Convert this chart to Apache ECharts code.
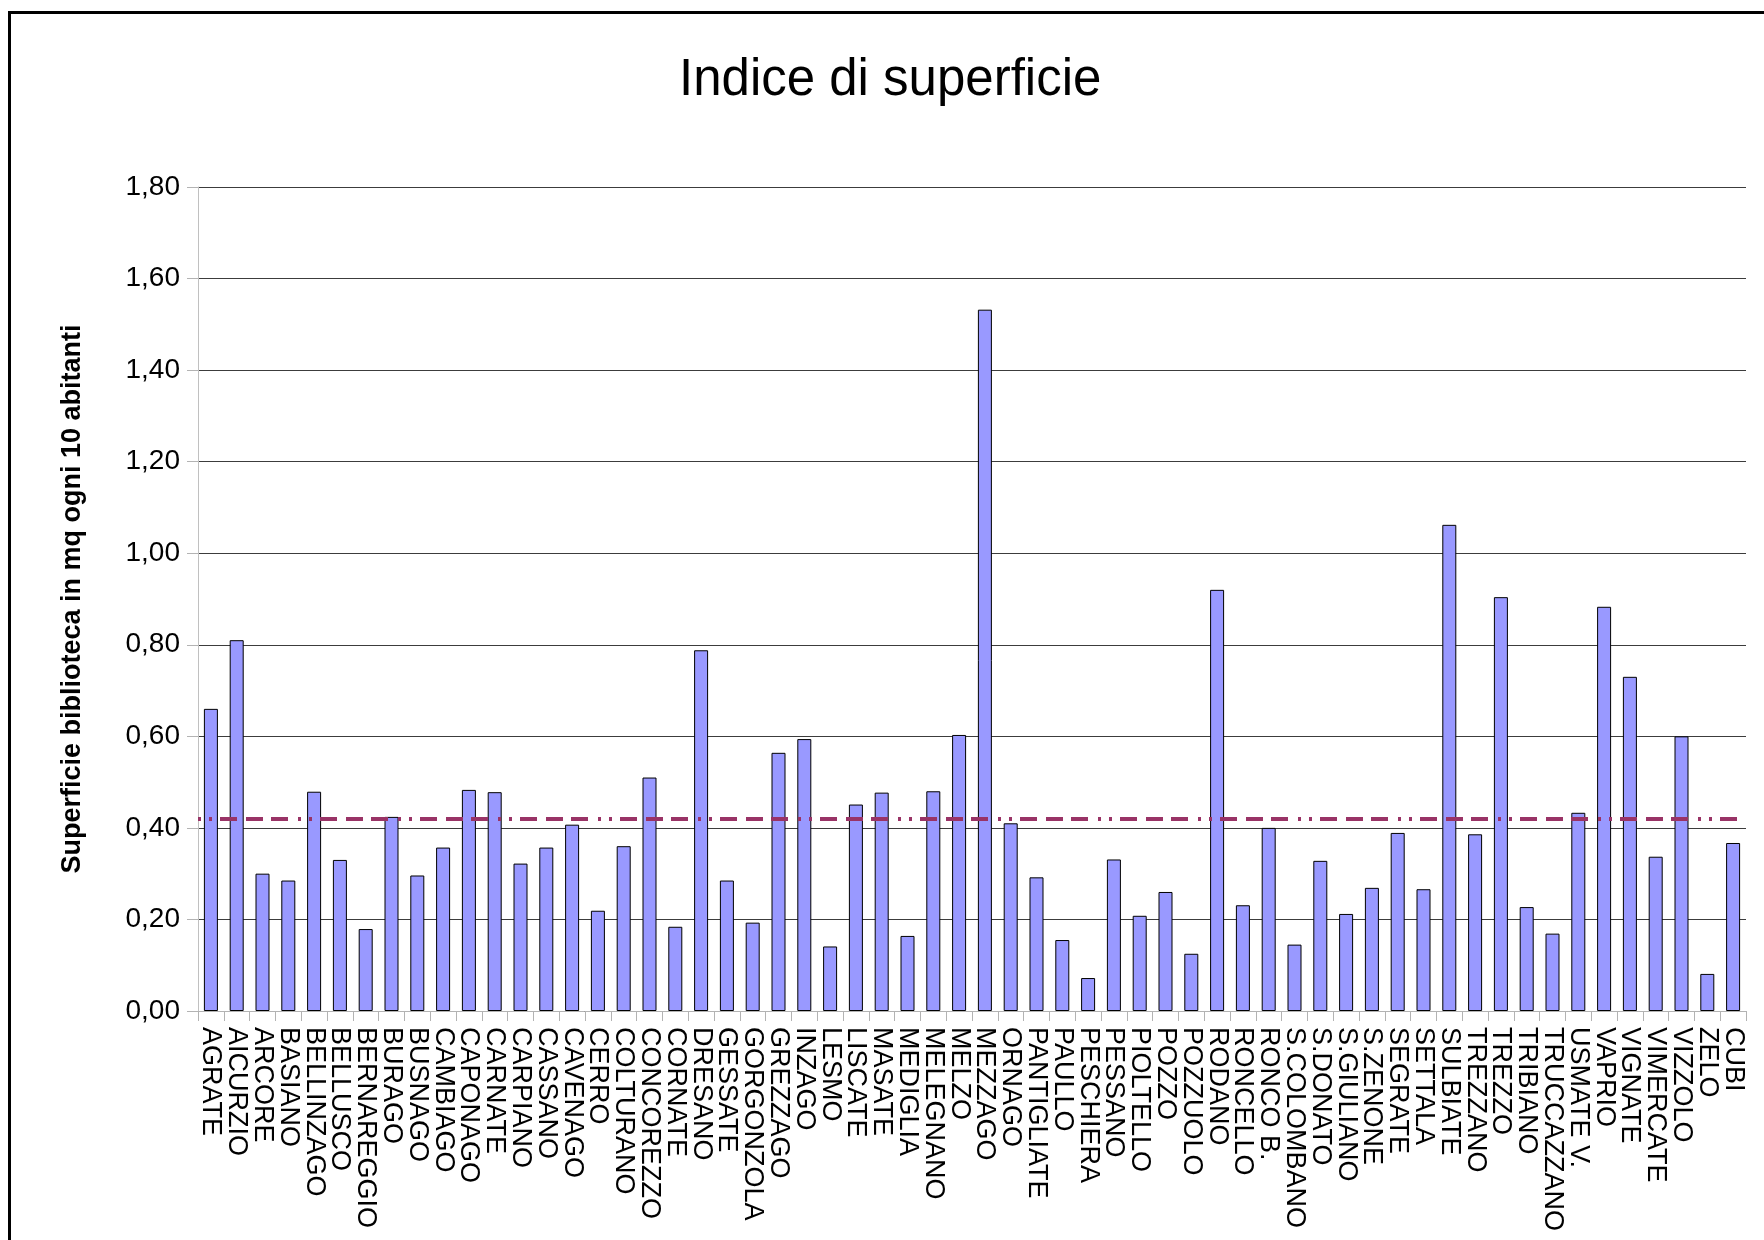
<!DOCTYPE html>
<html>
<head>
<meta charset="utf-8">
<script src="https://cdn.jsdelivr.net/npm/echarts@6/dist/echarts.min.js"></script>
<style>
  html, body { margin: 0; padding: 0; background: #ffffff; }
  #chart { width: 1764px; height: 1240px; }
</style>
</head>
<body>
<div id="chart"></div>
<script>
const titleText = 'Indice di superficie';
const yAxisName = 'Superficie biblioteca in mq ogni 10 abitanti';

const categories = [
  'AGRATE', 'AICURZIO', 'ARCORE', 'BASIANO', 'BELLINZAGO', 'BELLUSCO', 'BERNAREGGIO', 'BURAGO',
  'BUSNAGO', 'CAMBIAGO', 'CAPONAGO', 'CARNATE', 'CARPIANO', 'CASSANO', 'CAVENAGO', 'CERRO',
  'COLTURANO', 'CONCOREZZO', 'CORNATE', 'DRESANO', 'GESSATE', 'GORGONZOLA', 'GREZZAGO', 'INZAGO',
  'LESMO', 'LISCATE', 'MASATE', 'MEDIGLIA', 'MELEGNANO', 'MELZO', 'MEZZAGO', 'ORNAGO',
  'PANTIGLIATE', 'PAULLO', 'PESCHIERA', 'PESSANO', 'PIOLTELLO', 'POZZO', 'POZZUOLO', 'RODANO',
  'RONCELLO', 'RONCO B.', 'S.COLOMBANO', 'S.DONATO', 'S.GIULIANO', 'S.ZENONE', 'SEGRATE', 'SETTALA',
  'SULBIATE', 'TREZZANO', 'TREZZO', 'TRIBIANO', 'TRUCCAZZANO', 'USMATE V.', 'VAPRIO', 'VIGNATE',
  'VIMERCATE', 'VIZZOLO', 'ZELO', 'CUBI'
];

const indiceSuperficie = [
  0.66, 0.81, 0.30, 0.285, 0.479, 0.33, 0.179, 0.424,
  0.296, 0.357, 0.483, 0.478, 0.322, 0.357, 0.407, 0.219,
  0.36, 0.51, 0.184, 0.788, 0.285, 0.193, 0.564, 0.594,
  0.141, 0.451, 0.477, 0.164, 0.48, 0.603, 1.532, 0.41,
  0.292, 0.155, 0.072, 0.331, 0.208, 0.26, 0.125, 0.92,
  0.231, 0.40, 0.145, 0.328, 0.212, 0.269, 0.389, 0.266,
  1.062, 0.386, 0.904, 0.227, 0.169, 0.433, 0.883, 0.73,
  0.337, 0.60, 0.081, 0.367
];

const media = 0.416;

const yTickLabels = ['0,00', '0,20', '0,40', '0,60', '0,80', '1,00', '1,20', '1,40', '1,60', '1,80'];

const chart = echarts.init(document.getElementById('chart'), null, { renderer: 'canvas' });

const FONT = '"Liberation Sans", Arial, sans-serif';

chart.setOption({
  backgroundColor: '#ffffff',
  animation: false,
  graphic: [{
    type: 'rect',
    shape: { x: 9.5, y: 12.5, width: 1800, height: 1300 },
    style: { fill: 'none', stroke: '#000000', lineWidth: 3 },
    silent: true,
    z: 100
  }],
  title: {
    text: titleText,
    left: 674,
    top: 50,
    textStyle: { fontFamily: FONT, fontSize: 51, fontWeight: 'normal', color: '#000000' }
  },
  grid: { left: 198, right: 18, top: 187, bottom: 229, containLabel: false },
  xAxis: {
    type: 'category',
    data: categories,
    axisLine: { show: true, lineStyle: { color: '#b3b3b3', width: 1 } },
    axisTick: { show: true, interval: 0, length: 10, lineStyle: { color: '#b3b3b3' } },
    axisLabel: {
      interval: 0,
      rotate: -90,
      margin: 16,
      fontFamily: FONT,
      fontSize: 27,
      color: '#000000'
    },
    splitLine: { show: false }
  },
  yAxis: {
    type: 'value',
    min: 0,
    max: 1.8,
    interval: 0.2,
    name: yAxisName,
    nameLocation: 'middle',
    nameGap: 112,
    nameRotate: 90,
    nameTextStyle: { fontFamily: FONT, fontSize: 27, fontWeight: 'bold', color: '#000000' },
    axisLine: { show: true, lineStyle: { color: '#c0c0c0', width: 1 } },
    axisTick: { show: true, length: 11, lineStyle: { color: '#b3b3b3' } },
    axisLabel: {
      margin: 18,
      fontFamily: FONT,
      fontSize: 28,
      color: '#000000',
      formatter: function (v) { return yTickLabels[Math.round(v / 0.2)]; }
    },
    splitLine: { show: true, lineStyle: { color: '#3c3c3c', width: 1 } }
  },
  series: [{
    type: 'bar',
    data: indiceSuperficie,
    barWidth: 14,
    itemStyle: { color: '#9999ff', borderColor: '#000000', borderWidth: 1 },
    markLine: {
      silent: true,
      symbol: 'none',
      label: { show: false },
      lineStyle: { color: '#993366', width: 4, type: [3, 8, 3, 8, 17, 9, 17, 8, 17, 10] },
      data: [{ yAxis: media }]
    }
  }]
});
</script>
</body>
</html>
